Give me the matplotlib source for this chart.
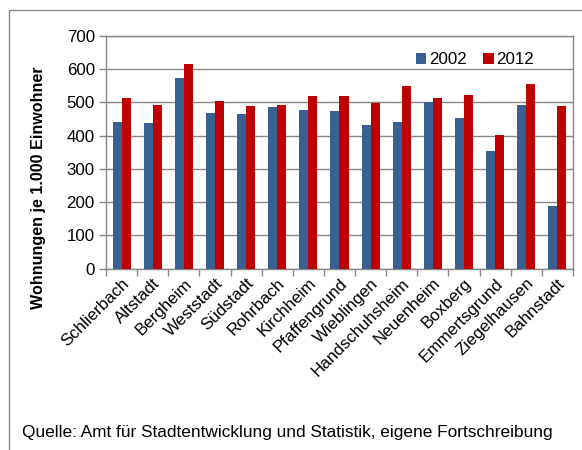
import matplotlib.pyplot as plt
import matplotlib.patches as mpatches
import numpy as np

plt.rcParams['font.family'] = ['Liberation Sans', 'DejaVu Sans']

stadtteile = ['Schlierbach', 'Altstadt', 'Bergheim', 'Weststadt', 'Südstadt',
              'Rohrbach', 'Kirchheim', 'Pfaffengrund', 'Wieblingen',
              'Handschuhsheim', 'Neuenheim', 'Boxberg', 'Emmertsgrund',
              'Ziegelhausen', 'Bahnstadt']
werte_2002 = [441, 438, 574, 467, 465, 485, 477, 474, 431, 442, 501, 454, 355, 493, 188]
werte_2012 = [513, 492, 616, 504, 489, 493, 520, 519, 498, 549, 512, 523, 401, 556, 490]
yticks = [0, 100, 200, 300, 400, 500, 600, 700]

blau = '#386092'
rot = '#C00000'
grau = '#868686'
fs = 12.2

fig = plt.figure(figsize=(5.82, 4.5), dpi=100)
ax = fig.add_axes([0.1821, 0.4029, 0.8024, 0.5171])

x = np.arange(len(stadtteile))
w = 0.29
ax.bar(x - w / 2, werte_2002, w, color=blau, label='2002', zorder=3)
ax.bar(x + w / 2, werte_2012, w, color=rot, label='2012', zorder=3)

ax.set_xlim(-0.5, len(stadtteile) - 0.5)
ax.set_ylim(0, 700)
ax.set_yticks(yticks)
ax.yaxis.grid(True, color=grau, linewidth=1, zorder=0)
ax.tick_params(axis='y', length=5, width=1, color=grau, labelsize=fs, pad=3)

# x ticks at category boundaries, labels at centers
ax.set_xticks(np.arange(len(stadtteile) + 1) - 0.5)
ax.set_xticklabels([])
ax.tick_params(axis='x', which='major', length=5, width=1, color=grau)
ax.set_xticks(x, minor=True)
ax.set_xticklabels(stadtteile, minor=True, rotation=45, ha='right',
                   va='top', rotation_mode='anchor', fontsize=fs)
ax.tick_params(axis='x', which='minor', length=0, pad=5)

for s in ax.spines.values():
    s.set_color(grau)
    s.set_linewidth(1)

ax.set_ylabel('Wohnungen je 1.000 Einwohner', fontsize=11.6, fontweight='bold')
ax.yaxis.set_label_coords(-0.128, 0.35)

ax.legend(loc='center', bbox_to_anchor=(0.79, 0.897), ncol=2, frameon=False,
          fontsize=fs, handlelength=0.6, handleheight=0.6, handletextpad=0.15,
          columnspacing=1.0, borderpad=0)

fig.text(22 / 582, 1 - 432 / 450, 'Quelle: Amt für Stadtentwicklung und Statistik, eigene Fortschreibung',
         fontsize=12.4, va='center', ha='left')

rahmen = mpatches.Rectangle((8.5 / 582, -0.05), 1.1, 1 - 10 / 450 + 0.05,
                            transform=fig.transFigure, fill=False,
                            edgecolor=grau, linewidth=1)
fig.patches.append(rahmen)

fig.savefig('out.png', dpi=100)
